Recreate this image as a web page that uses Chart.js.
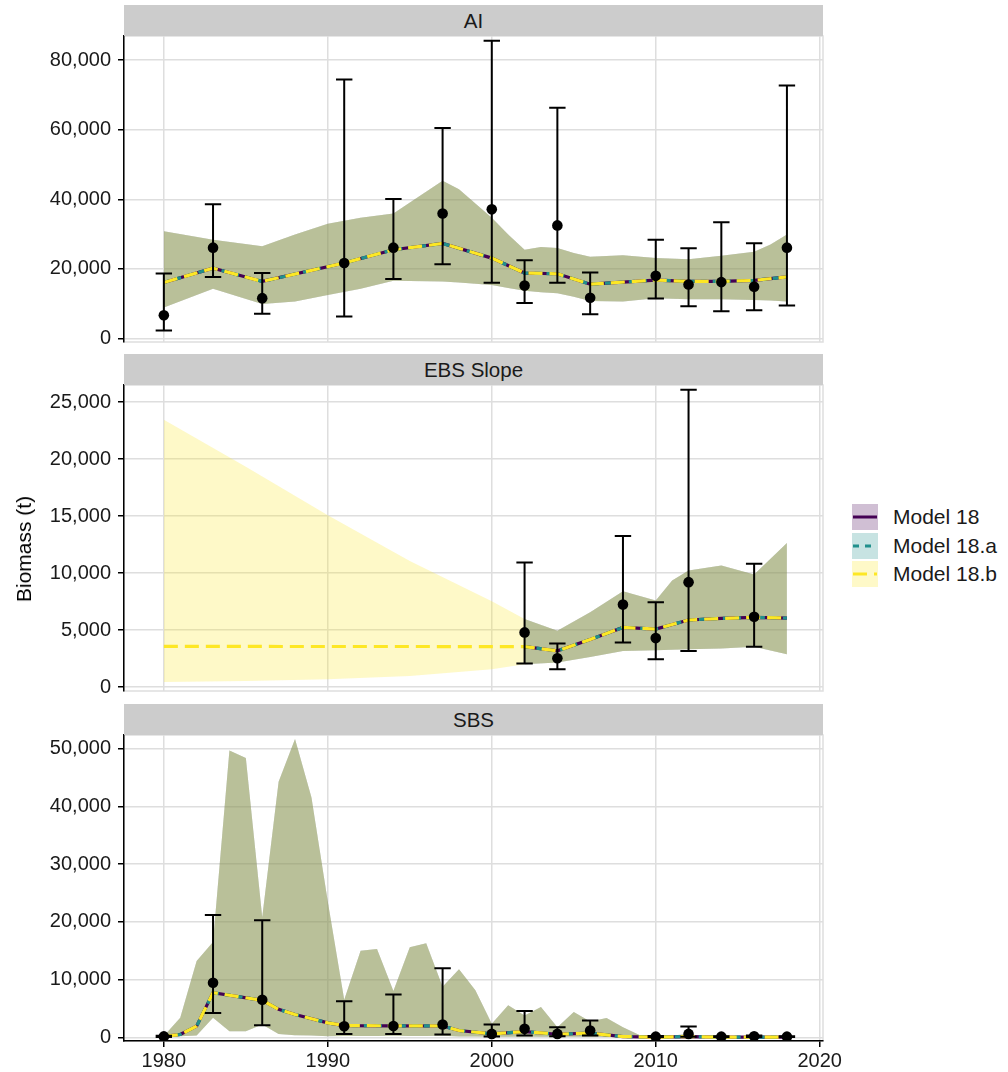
<!DOCTYPE html>
<html>
<head>
<meta charset="utf-8">
<script src="https://cdn.jsdelivr.net/npm/chart.js"></script>
<style>
  body { margin: 0; background: #fff; font-family: "Liberation Sans", Arial, sans-serif; }
  #wrap { position: relative; width: 1008px; height: 1072px; overflow: hidden; }
  canvas { position: absolute; left: 0; }
  .strip { position: absolute; left: 124px; width: 699px; height: 31px; background: #cccccc;
           color: #1a1a1a; font-size: 20.5px; line-height: 31px; text-align: center; z-index: 2; }
  #ytitle { position: absolute; left: 24px; top: 549px; transform: translate(-50%, -50%) rotate(-90deg);
            font-size: 21px; white-space: nowrap; color: #000; }
  #legend { position: absolute; left: 852px; top: 503px; font-size: 21px; color: #1a1a1a; }
  .key-row { display: flex; align-items: center; height: 28.5px; }
  .key-row svg { margin-right: 15px; }
</style>
</head>
<body>
<div id="wrap">
  <div class="strip" style="top:5px">AI</div>
  <div class="strip" style="top:354px">EBS Slope</div>
  <div class="strip" style="top:704px">SBS</div>
  <canvas id="ai" width="848" height="356" style="top:11px"></canvas>
  <canvas id="ebs" width="848" height="356" style="top:360px"></canvas>
  <canvas id="sbs" width="848" height="362" style="top:710px"></canvas>
  <div id="ytitle">Biomass (t)</div>
  <div id="legend"></div>
</div>
<script>
// ---- data ----
const X_TICKS = [1980, 1990, 2000, 2010, 2020];
const AI_TICKS = [0, 20000, 40000, 60000, 80000];
const EBS_TICKS = [0, 5000, 10000, 15000, 20000, 25000];
const SBS_TICKS = [0, 10000, 20000, 30000, 40000, 50000];

// AI survey
const AI_YEARS = [1980, 1983, 1986, 1991, 1994, 1997, 2000, 2002, 2004, 2006, 2010, 2012, 2014, 2016, 2018];
const AI_OBS = [6700, 26100, 11600, 21700, 26100, 35900, 37100, 15200, 32500, 11700, 18000, 15500, 16200, 14900, 26100];
const AI_LO = [2300, 17700, 7100, 6300, 17100, 21300, 16000, 10200, 16000, 7000, 11500, 9300, 7800, 8100, 9500];
const AI_HI = [18700, 38600, 18800, 74400, 40100, 60500, 85500, 22500, 66300, 19000, 28400, 25900, 33400, 27400, 72700];
const AI_LINE_YEARS = [1980, 1983, 1986, 1991, 1994, 1997, 2000, 2002, 2004, 2006, 2010, 2012, 2014, 2016, 2018];
const AI_LINE = [16100, 20200, 16400, 21700, 25500, 27300, 23100, 18800, 18600, 15600, 16800, 16400, 16400, 16700, 17700];
const AI_RIB_YEARS = [1980, 1983, 1986, 1988, 1990, 1992, 1994, 1997, 1998, 2000, 2001, 2002, 2003, 2004, 2005, 2006, 2008, 2010, 2012, 2014, 2016, 2017, 2018];
const AI_RIB_UP = [30800, 28400, 26500, 29900, 33000, 34700, 35900, 45300, 42900, 34700, 29900, 25500, 26300, 26000, 24600, 23500, 23900, 23100, 22800, 23800, 24900, 27000, 29900];
const AI_RIB_LO = [8900, 14300, 9900, 10600, 12500, 14300, 16600, 16400, 16100, 15400, 14500, 13700, 13300, 13000, 12000, 10800, 10600, 11600, 11300, 11300, 11100, 10900, 10600];

// EBS Slope survey
const EBS_YEARS = [2002, 2004, 2008, 2010, 2012, 2016];
const EBS_OBS = [4790, 2530, 7230, 4290, 9200, 6170];
const EBS_LO = [2060, 1560, 3910, 2440, 3170, 3530];
const EBS_HI = [10930, 3820, 13250, 7430, 26090, 10810];
const EBS_LINE_YEARS = [1980, 2002, 2004, 2006, 2008, 2010, 2012, 2014, 2016, 2018];
const EBS_LINE = [3560, 3550, 3170, 4170, 5230, 5080, 5880, 6020, 6110, 6050];
const EBS_RIB_YEARS = [1980, 1985, 1990, 1995, 2000, 2002, 2004, 2006, 2008, 2010, 2011, 2012, 2014, 2016, 2018];
const EBS_RIB_UP = [23450, 19330, 15070, 11050, 7520, 5960, 4940, 6550, 8400, 7580, 9340, 10220, 10660, 9870, 12630];
const EBS_RIB_LO = [440, 530, 680, 970, 1560, 2000, 2140, 2640, 3170, 3230, 3280, 3320, 3380, 3530, 2880];
const EBS_FIT_START = 2002; // Model 18 and 18.a only fit this area from 2002

// SBS survey
const SBS_YEARS = [1980, 1983, 1986, 1991, 1994, 1997, 2000, 2002, 2004, 2006, 2010, 2012, 2014, 2016, 2018];
const SBS_OBS = [150, 9450, 6500, 1920, 1950, 2220, 580, 1460, 580, 1170, 100, 580, 100, 170, 100];
const SBS_LO = [30, 4200, 2070, 560, 560, 470, 120, 290, 175, 290, 40, 100, 40, 60, 40];
const SBS_HI = [250, 21200, 20300, 6250, 7430, 11950, 2220, 4550, 1750, 2920, 200, 1870, 180, 300, 180];
const SBS_LINE_YEARS = [1980, 1981, 1982, 1983, 1986, 1987, 1988, 1990, 1991, 1994, 1997, 1998, 2000, 2002, 2004, 2006, 2008, 2010, 2012, 2014, 2018];
const SBS_LINE = [170, 470, 1920, 7730, 6400, 4830, 3950, 2500, 2030, 1980, 1950, 1170, 580, 990, 520, 700, 120, 20, 120, 20, 20];
const SBS_RIB_YEARS = [1980, 1981, 1982, 1983, 1984, 1985, 1986, 1987, 1988, 1989, 1990, 1991, 1992, 1993, 1994, 1995, 1996, 1997, 1998, 1999,
                       2000, 2001, 2002, 2003, 2004, 2005, 2006, 2007, 2008, 2009, 2010, 2011, 2012, 2013, 2014, 2015, 2016, 2017, 2018];
const SBS_RIB_UP = [200, 3400, 13200, 16500, 49700, 48400, 20800, 44300, 51700, 41600, 23500, 6500, 15000, 15300, 8000, 15600, 16300, 8750, 11800, 8160,
                    2330, 5540, 3790, 5250, 1750, 4370, 2740, 3320, 1750, 400, 290, 290, 580, 150, 120, 120, 150, 120, 120];
const SBS_RIB_LO = [0, 170, 290, 3370, 1050, 1050, 2200, 580, 350, 290, 170, 200, 200, 200, 250, 200, 200, 250, 150, 120,
                    80, 100, 150, 100, 80, 80, 100, 60, 30, 10, 0, 0, 20, 0, 0, 0, 0, 0, 0];

const MODELS = [
  { name: 'Model 18',   color: '#440154', fill: 'rgba(68,1,84,0.25)',    dash: [],      late: true },
  { name: 'Model 18.a', color: '#21908C', fill: 'rgba(33,144,140,0.25)', dash: [6, 6],  late: true },
  { name: 'Model 18.b', color: '#FDE725', fill: 'rgba(253,231,37,0.25)', dash: [14, 7], late: false }
];

const CAP = 0.5; // half width of error bar caps, in years

Chart.defaults.font.family = '"Liberation Sans", Arial, sans-serif';
Chart.defaults.font.size = 20;
Chart.defaults.color = '#1a1a1a';

function pts(xs, ys, start) {
  const out = [];
  xs.forEach((x, i) => { if (x >= start) out.push({ x: x, y: ys[i] }); });
  return out;
}

function errSegs(xs, lo, hi) {
  const out = [];
  xs.forEach((x, i) => {
    out.push({ x: x, y: lo[i] }, { x: x, y: hi[i] }, { x: x, y: null });
    out.push({ x: x - CAP, y: hi[i] }, { x: x + CAP, y: hi[i] }, { x: x, y: null });
    out.push({ x: x - CAP, y: lo[i] }, { x: x + CAP, y: lo[i] }, { x: x, y: null });
  });
  return out;
}

const frame = {
  id: 'frame',
  beforeDraw(chart) {
    const { ctx, chartArea: a } = chart;
    ctx.save();
    ctx.strokeStyle = '#dedede';
    ctx.lineWidth = 1.5;
    ctx.strokeRect(a.left, a.top, a.right - a.left, a.bottom - a.top);
    ctx.restore();
  }
};

function drawPanel(id, p) {
  const datasets = [
    { data: pts(p.years, p.obs, 0), showLine: false, pointRadius: 5.3, pointBackgroundColor: '#000',
      pointBorderWidth: 0, order: 0 },
    { data: errSegs(p.years, p.lo, p.hi), borderColor: '#000', borderWidth: 2, pointRadius: 0,
      spanGaps: false, fill: false, order: 1 }
  ];
  // lines: yellow on top, purple at the bottom
  MODELS.slice().reverse().forEach((m, k) => {
    const start = m.late ? p.fitStart : 0;
    datasets.push({ data: pts(p.lineYears, p.line, start), borderColor: m.color, borderWidth: 3.2,
      borderDash: m.dash, pointRadius: 0, fill: false, order: 2 + k });
  });
  // ribbons: purple drawn first, yellow last
  MODELS.forEach((m, k) => {
    const start = m.late ? p.fitStart : 0;
    datasets.push({ data: pts(p.ribYears, p.ribUp, start), borderWidth: 0, pointRadius: 0,
      fill: '+1', backgroundColor: m.fill, order: 12 - k });
    datasets.push({ data: pts(p.ribYears, p.ribLo, start), borderWidth: 0, pointRadius: 0,
      fill: false, order: 20 + k });
  });

  new Chart(document.getElementById(id), {
    type: 'line',
    data: { datasets: datasets },
    plugins: [frame],
    options: {
      responsive: false,
      animation: false,
      events: [],
      layout: { padding: { left: 0, right: 25, top: 25, bottom: p.bottom ? 1 : 25 } },
      plugins: { legend: { display: false }, tooltip: { enabled: false } },
      elements: { line: { tension: 0 } },
      scales: {
        x: {
          type: 'linear', min: 1977.57, max: 2020.2,
          afterBuildTicks: s => { s.ticks = X_TICKS.map(v => ({ value: v })); },
          afterFit: s => { s.height = p.bottom ? 30 : 0; },
          ticks: { display: p.bottom, padding: 2, maxRotation: 0, callback: v => String(v) },
          grid: { color: '#dedede', lineWidth: 1.5, drawTicks: p.bottom, tickColor: '#000',
                  tickLength: 6, tickWidth: 1.5 },
          border: { display: p.bottom, color: '#000', width: 1.5 }
        },
        y: {
          min: p.yMin, max: p.yMax,
          afterBuildTicks: s => { s.ticks = p.yTicks.map(v => ({ value: v })); },
          afterFit: s => { s.width = 124; },
          ticks: { padding: 7, callback: v => v.toLocaleString('en-US') },
          grid: { color: '#dedede', lineWidth: 1.5, tickColor: '#000', tickLength: 6, tickWidth: 1.5 },
          border: { display: true, color: '#000', width: 1.5 }
        }
      }
    }
  });
}

drawPanel('ai', {
  years: AI_YEARS, obs: AI_OBS, lo: AI_LO, hi: AI_HI,
  lineYears: AI_LINE_YEARS, line: AI_LINE,
  ribYears: AI_RIB_YEARS, ribUp: AI_RIB_UP, ribLo: AI_RIB_LO,
  fitStart: 0, yMin: -1000, yMax: 86900, yTicks: AI_TICKS, bottom: false
});
drawPanel('ebs', {
  years: EBS_YEARS, obs: EBS_OBS, lo: EBS_LO, hi: EBS_HI,
  lineYears: EBS_LINE_YEARS, line: EBS_LINE,
  ribYears: EBS_RIB_YEARS, ribUp: EBS_RIB_UP, ribLo: EBS_RIB_LO,
  fitStart: EBS_FIT_START, yMin: -350, yMax: 26500, yTicks: EBS_TICKS, bottom: false
});
drawPanel('sbs', {
  years: SBS_YEARS, obs: SBS_OBS, lo: SBS_LO, hi: SBS_HI,
  lineYears: SBS_LINE_YEARS, line: SBS_LINE,
  ribYears: SBS_RIB_YEARS, ribUp: SBS_RIB_UP, ribLo: SBS_RIB_LO,
  fitStart: 0, yMin: -650, yMax: 52400, yTicks: SBS_TICKS, bottom: true
});

// legend
const legend = document.getElementById('legend');
MODELS.forEach(m => {
  const row = document.createElement('div');
  row.className = 'key-row';
  row.innerHTML =
    '<svg width="26" height="26"><rect width="26" height="26" fill="' + m.fill + '"/>' +
    '<line x1="1" y1="13" x2="25" y2="13" stroke="' + m.color + '" stroke-width="3"' +
    (m.dash.length ? ' stroke-dasharray="' + m.dash.join(',') + '"' : '') + '/></svg>' +
    '<span>' + m.name + '</span>';
  legend.appendChild(row);
});
</script>
</body>
</html>
